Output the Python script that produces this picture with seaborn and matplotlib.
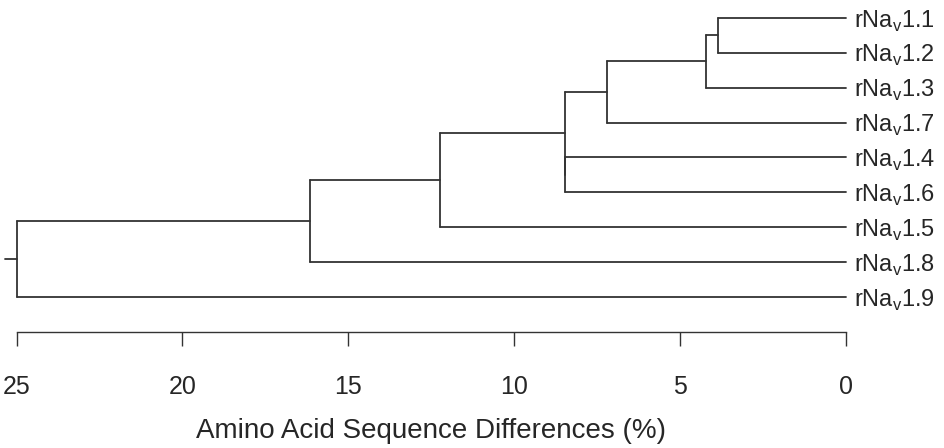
import numpy as np
import pandas as pd
import matplotlib
matplotlib.use("Agg")
import matplotlib.pyplot as plt
import seaborn as sns

# =====================
# DATA
# =====================

# leaves, top to bottom
leaf_labels = ["rNav1.1", "rNav1.2", "rNav1.3", "rNav1.7", "rNav1.4",
               "rNav1.6", "rNav1.5", "rNav1.8", "rNav1.9"]

# merges (linkage style): left child, right child, height (% difference)
# ids 0-8 are leaves, 9+ are the merged clusters in this order
merge_left = [0, 9, 10, 4, 11, 13, 14, 15]
merge_right = [1, 2, 3, 5, 12, 6, 7, 8]
merge_height = [3.86, 4.22, 7.20, 8.47, 8.47, 12.24, 16.15, 25.0]

x_ticks = [25, 20, 15, 10, 5, 0]

# =====================
# STYLE
# =====================

sns.set_style("white")
plt.rcParams["font.family"] = ["Liberation Sans", "DejaVu Sans"]
line_color = "#333333"
root_stub = 0.35

# =====================
# BUILD SEGMENTS
# =====================

n = len(leaf_labels)
node_x = {i: 0.0 for i in range(n)}
node_y = {i: float(n - i) for i in range(n)}

rows = []
seg = 0
for k in range(len(merge_height)):
    a, b, h = merge_left[k], merge_right[k], merge_height[k]
    nid = n + k
    node_x[nid] = h
    node_y[nid] = (node_y[a] + node_y[b]) / 2
    for c in (a, b):
        rows.append({"seg": seg, "x": node_x[c], "y": node_y[c]})
        rows.append({"seg": seg, "x": h, "y": node_y[c]})
        seg += 1
    rows.append({"seg": seg, "x": h, "y": node_y[a]})
    rows.append({"seg": seg, "x": h, "y": node_y[b]})
    seg += 1

root = n + len(merge_height) - 1
rows.append({"seg": seg, "x": node_x[root], "y": node_y[root]})
rows.append({"seg": seg, "x": node_x[root] + root_stub, "y": node_y[root]})

segments = pd.DataFrame(rows)

# =====================
# PLOT
# =====================

fig = plt.figure(figsize=(9.45, 4.48), dpi=100)
ax = fig.add_axes([16.5 / 945, 116 / 448, (846 - 16.5) / 945, 332 / 448])

sns.lineplot(
    data=segments,
    x="x",
    y="y",
    units="seg",
    estimator=None,
    sort=False,
    color=line_color,
    linewidth=1.3,
    ax=ax
)
for line in ax.lines:
    line.set_clip_on(False)

ax.set_xlim(25, 0)
ax.set_ylim(0, 9.51)

ax.set_xticks(x_ticks)
ax.set_xticklabels([str(t) for t in x_ticks], fontsize=18)
ax.tick_params(axis="x", direction="out", length=10, width=1.0,
               color=line_color, pad=21, bottom=True)

ax.yaxis.tick_right()
ax.set_yticks([node_y[i] for i in range(n)])
ax.set_yticklabels(
    [lab[:3] + r"$_\mathregular{v}$" + lab[4:] for lab in leaf_labels],
    fontsize=17
)
ax.tick_params(axis="y", length=0, pad=6)

ax.set_xlabel("Amino Acid Sequence Differences (%)", fontsize=20, labelpad=14)
ax.set_ylabel("")

for side in ["top", "left", "right"]:
    ax.spines[side].set_visible(False)
ax.spines["bottom"].set_color(line_color)
ax.spines["bottom"].set_linewidth(1.0)

fig.savefig("out.png", dpi=100)
